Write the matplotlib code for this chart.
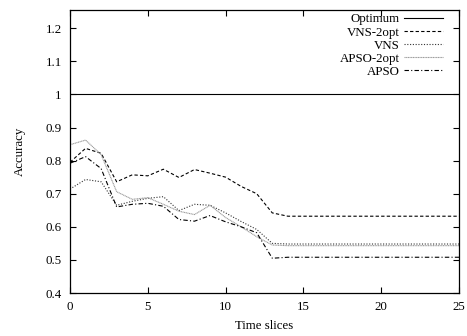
import numpy as np
import matplotlib
matplotlib.use("Agg")
import matplotlib.pyplot as plt

plt.rcParams['font.family'] = 'serif'
plt.rcParams['font.serif'] = ['Liberation Serif', 'DejaVu Serif']
plt.rcParams['font.size'] = 9.3

# time slices 0..25
t = np.arange(26)

optimum = [1.0] * 26
vns_2opt = [0.795, 0.837, 0.822, 0.736, 0.757, 0.754, 0.774, 0.749, 0.773, 0.762,
            0.750, 0.722, 0.700, 0.642, 0.632, 0.632, 0.632, 0.632, 0.632, 0.632,
            0.632, 0.632, 0.632, 0.632, 0.632, 0.632]
vns = [0.714, 0.743, 0.736, 0.665, 0.677, 0.686, 0.691, 0.649, 0.668, 0.665,
       0.642, 0.616, 0.592, 0.550, 0.548, 0.548, 0.548, 0.548, 0.548, 0.548,
       0.548, 0.548, 0.548, 0.548, 0.548, 0.548]
apso_2opt = [0.848, 0.862, 0.818, 0.706, 0.683, 0.688, 0.668, 0.647, 0.637, 0.665,
             0.628, 0.600, 0.570, 0.545, 0.543, 0.543, 0.543, 0.543, 0.543, 0.543,
             0.543, 0.543, 0.543, 0.543, 0.543, 0.543]
apso = [0.792, 0.812, 0.776, 0.660, 0.668, 0.671, 0.662, 0.622, 0.617, 0.634,
        0.615, 0.600, 0.582, 0.505, 0.508, 0.508, 0.508, 0.508, 0.508, 0.508,
        0.508, 0.508, 0.508, 0.508, 0.508, 0.508]

fig = plt.figure(figsize=(4.67, 3.36), dpi=100)
ax = fig.add_axes([70 / 467, 1 - 293 / 336, 389 / 467, (293 - 10) / 336])

lw = 0.8
ax.plot(t, optimum, color='black', lw=lw, ls='-', label='Optimum')
ax.plot(t, vns_2opt, color='black', lw=lw, ls=(0, (3, 2)), label='VNS-2opt')
ax.plot(t, vns, color='#333333', lw=lw, ls=(0, (1, 1.5)), label='VNS')
ax.plot(t, apso_2opt, color='#999999', lw=lw, ls=(0, (1, 0.5)), label='APSO-2opt')
ax.plot(t, apso, color='black', lw=lw, ls=(0, (4, 2, 1, 2)), label='APSO')

ax.set_xlim(0, 25)
ax.set_ylim(0.4, 1.255)
ax.set_xticks([0, 5, 10, 15, 20, 25])
ax.set_yticks([0.4, 0.5, 0.6, 0.7, 0.8, 0.9, 1.0, 1.1, 1.2])
ax.set_yticklabels(['0.4', '0.5', '0.6', '0.7', '0.8', '0.9', '1', '1.1', '1.2'])
ax.tick_params(direction='in', top=True, right=True, length=4, width=0.8, pad=6)
for s in ax.spines.values():
    s.set_linewidth(0.9)

ax.set_xlabel('Time slices', labelpad=5)
ax.set_ylabel('Accuracy', labelpad=14)

ax.legend(loc='upper right', frameon=False, markerfirst=False, handlelength=3.0,
          handletextpad=0.3, labelspacing=0.08, borderpad=0,
          bbox_to_anchor=(449 / 467, 1 - 7 / 336), bbox_transform=fig.transFigure)

fig.savefig('out.png', dpi=100)
